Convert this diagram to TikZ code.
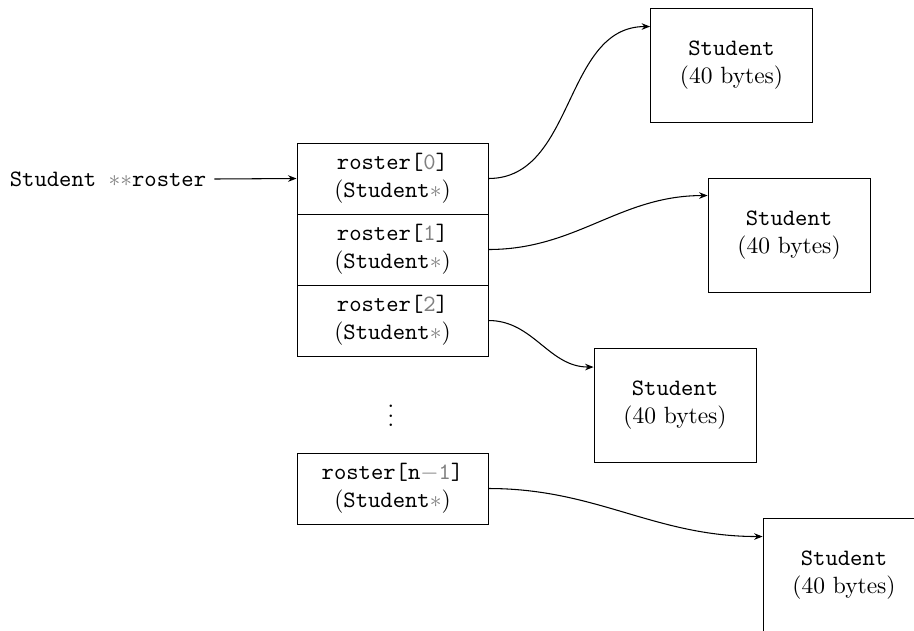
\documentclass[tikz,border=0pt]{standalone}
\usetikzlibrary{arrows.meta,calc}
\newcommand{\mygray}[1]{\textcolor{gray}{#1}}
\newcommand{\gast}{\mygray{$\ast$}}
\begin{document}
\begin{tikzpicture}[x=0.4255pt,y=-0.4255pt,
  cell/.style={draw,rectangle,minimum width=81.3pt,minimum height=30.2pt,align=center,inner sep=0pt},
  obj/.style={draw,rectangle,minimum width=68.9pt,minimum height=48.5pt,align=center,inner sep=0pt},
  ptr/.style={-{Stealth[length=3.6pt,width=2.8pt]},line width=0.45pt},
  conn/.style={ptr,out=0,in=180}]
\useasboundingbox (0,0) rectangle (914,630);
\node (p) at (108,179) {\texttt{Student }\mygray{${\ast}{\ast}$}\texttt{roster}};
\node[cell] (r0) at (392.5,178.5) {\texttt{roster[}\mygray{\texttt{0}}\texttt{]}\\(\texttt{Student}\gast)};
\node[cell] (r1) at (392.5,249.5) {\texttt{roster[}\mygray{\texttt{1}}\texttt{]}\\(\texttt{Student}\gast)};
\node[cell] (r2) at (392.5,320.5) {\texttt{roster[}\mygray{\texttt{2}}\texttt{]}\\(\texttt{Student}\gast)};
\node (dots) at (391,409) {$\vdots$};
\node[cell] (rn) at (392.5,488.5) {\texttt{roster[n}\mygray{$-$\texttt{1}}\texttt{]}\\(\texttt{Student}\gast)};
\node[obj] (s1) at (731.5,65) {\texttt{Student}\\(40 bytes)};
\node[obj] (s2) at (789,235) {\texttt{Student}\\(40 bytes)};
\node[obj] (s3) at (675,405.5) {\texttt{Student}\\(40 bytes)};
\node[obj] (s4) at (844,575) {\texttt{Student}\\(40 bytes)};
\draw[ptr] (p.east) -- (r0.west);
\draw[conn] (r0.east) to ($(s1.north west)+(0,19)$);
\draw[conn] (r1.east) to ($(s2.north west)+(0,18)$);
\draw[conn] (r2.east) to ($(s3.north west)+(0,19)$);
\draw[conn] (rn.east) to ($(s4.north west)+(0,19)$);
\end{tikzpicture}
\end{document}
